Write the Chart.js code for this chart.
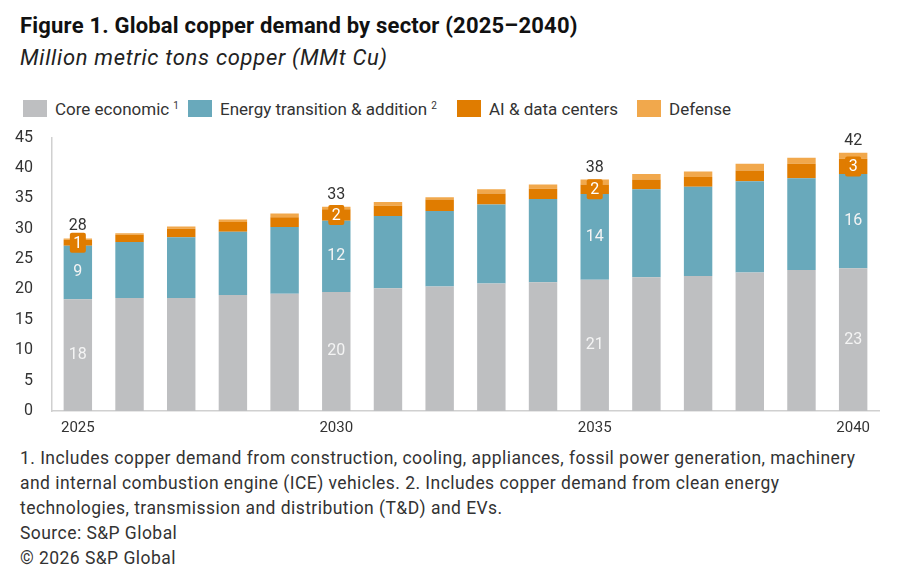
<!DOCTYPE html>
<html>
<head>
<meta charset="utf-8">
<script src="https://cdn.jsdelivr.net/npm/chart.js@4.4.1/dist/chart.umd.min.js"></script>
<style>
  html, body { margin: 0; padding: 0; background: #fff; }
  body { width: 900px; height: 568px; position: relative; overflow: hidden; font-family: Roboto, "Noto Sans", sans-serif; color: #222; }
  #title { position: absolute; left: 20px; top: 13px; font-size: 22px; font-weight: bold; color: #111; letter-spacing: 0.2px; }
  #subtitle { position: absolute; left: 20px; top: 45px; font-size: 22px; font-style: italic; color: #222; letter-spacing: 0.7px; }
  #legend { position: absolute; left: 0; top: 100px; width: 900px; height: 18px; font-size: 17px; color: #333; }
  #legend .item { position: absolute; top: 0; display: flex; align-items: center; height: 17px; }
  #legend .box { width: 24px; height: 17px; margin-right: 8px; }
  #legend sup { font-size: 10px; margin-left: 4px; position: relative; top: -3px; }
  #chartWrap { position: absolute; left: 0; top: 117px; width: 900px; height: 320px; }
  #notes { position: absolute; left: 20px; top: 446px; font-size: 17.5px; line-height: 25px; color: #333; letter-spacing: 0.45px; }
</style>
</head>
<body>
<div id="title">Figure 1. Global copper demand by sector (2025–2040)</div>
<div id="subtitle">Million metric tons copper (MMt Cu)</div>
<div id="legend"></div>
<div id="chartWrap"><canvas id="copperChart" width="900" height="320"></canvas></div>
<div id="notes">
  <div>1. Includes copper demand from construction, cooling, appliances, fossil power generation, machinery</div>
  <div>and internal combustion engine (ICE) vehicles. 2. Includes copper demand from clean energy</div>
  <div>technologies, transmission and distribution (T&amp;D) and EVs.</div>
  <div>Source: S&amp;P Global</div>
  <div>© 2026 S&amp;P Global</div>
</div>

<script>
// Data (MMt Cu)
const years = ["2025", "2026", "2027", "2028", "2029", "2030", "2031", "2032",
               "2033", "2034", "2035", "2036", "2037", "2038", "2039", "2040"];
const coreEconomic = [18.4, 18.6, 18.6, 19.1, 19.3, 19.6, 20.2, 20.5, 21.0, 21.2, 21.6, 22.0, 22.2, 22.8, 23.2, 23.5];
const energyTransition = [8.8, 9.2, 10.0, 10.4, 11.0, 11.7, 11.9, 12.4, 13.0, 13.7, 14.1, 14.5, 14.7, 15.0, 15.1, 15.5];
const aiDataCenters = [1.0, 1.2, 1.4, 1.6, 1.6, 1.9, 1.7, 1.9, 1.8, 1.7, 1.6, 1.6, 1.6, 1.8, 2.4, 2.5];
const defense = [0.2, 0.25, 0.35, 0.4, 0.6, 0.4, 0.6, 0.4, 0.7, 0.7, 0.8, 0.9, 0.9, 1.1, 1.0, 1.0];

// Labels printed on the bars
const labelYears = ["2025", "2030", "2035", "2040"];
const coreLabels = [18, 20, 21, 23];
const energyLabels = [9, 12, 14, 16];
const aiLabels = [1, 2, 2, 3];
const totalLabels = [28, 33, 38, 42];

const colors = {
  core: "#bebfc1",
  energy: "#69a9bb",
  ai: "#e07c00",
  defense: "#f1a84c"
};

// HTML legend (needs superscripts)
const legendItems = [
  { text: "Core economic", sup: "1", color: colors.core, left: 23 },
  { text: "Energy transition & addition", sup: "2", color: colors.energy, left: 188 },
  { text: "AI & data centers", sup: "", color: colors.ai, left: 457 },
  { text: "Defense", sup: "", color: colors.defense, left: 637 }
];
const legendEl = document.getElementById("legend");
legendItems.forEach(item => {
  const div = document.createElement("div");
  div.className = "item";
  div.style.left = item.left + "px";
  const box = document.createElement("span");
  box.className = "box";
  box.style.background = item.color;
  const label = document.createElement("span");
  label.textContent = item.text;
  div.appendChild(box);
  div.appendChild(label);
  if (item.sup) {
    const sup = document.createElement("sup");
    sup.textContent = item.sup;
    div.appendChild(sup);
  }
  legendEl.appendChild(div);
});

// draws the numbers on the 2025/2030/2035/2040 bars
const barLabels = {
  id: "barLabels",
  afterDatasetsDraw(chart) {
    const ctx = chart.ctx;
    ctx.save();
    ctx.font = "16px Roboto";
    ctx.textAlign = "center";
    ctx.textBaseline = "middle";
    labelYears.forEach((year, k) => {
      const i = years.indexOf(year);
      const core = chart.getDatasetMeta(0).data[i];
      const energy = chart.getDatasetMeta(1).data[i];
      const ai = chart.getDatasetMeta(2).data[i];
      const def = chart.getDatasetMeta(3).data[i];

      ctx.fillStyle = "#f4f4f4";
      ctx.fillText(coreLabels[k], core.x, (core.y + core.base) / 2);
      ctx.fillText(energyLabels[k], energy.x, (energy.y + energy.base) / 2);

      // AI value sits in a small orange box
      const aiMid = (ai.y + ai.base) / 2;
      ctx.fillStyle = colors.ai;
      ctx.beginPath();
      ctx.roundRect(ai.x - 8, aiMid - 10, 16, 20, 2);
      ctx.fill();
      ctx.fillStyle = "#ffffff";
      ctx.fillText(aiLabels[k], ai.x, aiMid + 1);

      ctx.fillStyle = "#333333";
      ctx.textBaseline = "bottom";
      ctx.fillText(totalLabels[k], def.x, def.y - 4);
      ctx.textBaseline = "middle";
    });
    ctx.restore();
  }
};

const ctx = document.getElementById("copperChart").getContext("2d");
const copperChart = new Chart(ctx, {
  type: "bar",
  data: {
    labels: years,
    datasets: [
      { label: "Core economic", data: coreEconomic, backgroundColor: colors.core },
      { label: "Energy transition & addition", data: energyTransition, backgroundColor: colors.energy },
      { label: "AI & data centers", data: aiDataCenters, backgroundColor: colors.ai },
      { label: "Defense", data: defense, backgroundColor: colors.defense }
    ]
  },
  options: {
    responsive: false,
    animation: false,
    layout: { padding: { top: 10, right: 21, left: 0, bottom: 0 } },
    datasets: {
      bar: { categoryPercentage: 1, barPercentage: 0.55 }
    },
    plugins: {
      legend: { display: false },
      tooltip: { enabled: false }
    },
    scales: {
      x: {
        stacked: true,
        grid: { display: false },
        border: { display: true, color: "#d0d0d0", width: 1.5 },
        ticks: {
          color: "#333",
          font: { family: "Roboto", size: 15 },
          padding: 0,
          autoSkip: false,
          maxRotation: 0,
          callback: function (value) {
            const y = this.getLabelForValue(value);
            return labelYears.includes(y) ? y : "";
          }
        }
      },
      y: {
        stacked: true,
        min: 0,
        max: 45,
        grid: { display: false },
        border: { display: true, color: "#d0d0d0", width: 1.5 },
        ticks: {
          stepSize: 5,
          color: "#333",
          font: { family: "Roboto", size: 16 },
          padding: 11
        },
        afterFit(scale) {
          scale.width = 52;
        }
      }
    }
  },
  plugins: [barLabels]
});
</script>
</body>
</html>
